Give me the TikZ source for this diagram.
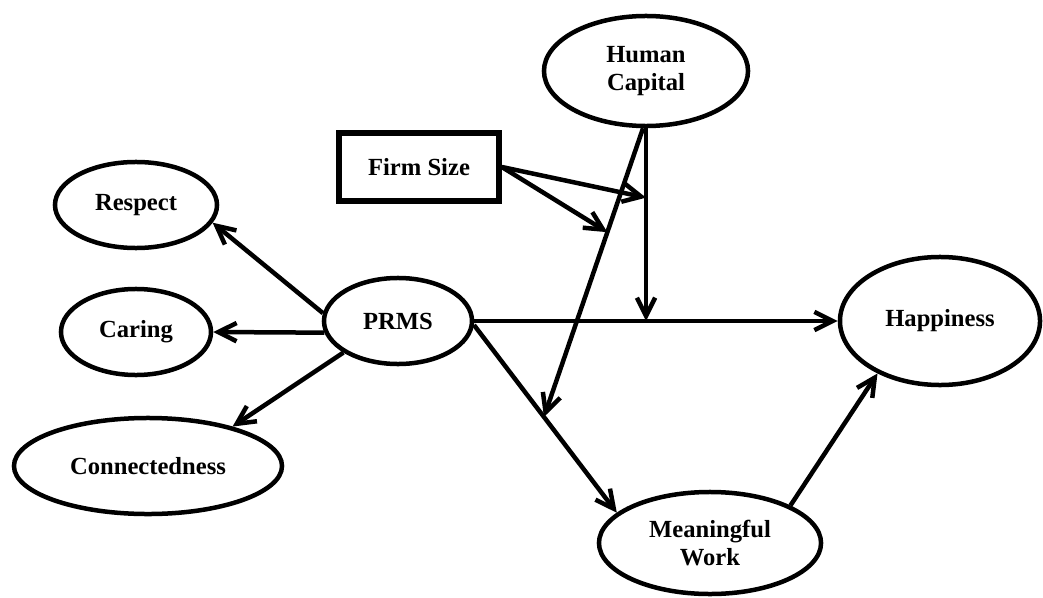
\documentclass[tikz,border=0pt]{standalone}
\usepackage{fontspec}
\setmainfont{Liberation Serif}
\usepackage{tikz}
\usetikzlibrary{arrows.meta,shapes.geometric,calc}
\tikzset{
	path model/.style={
		x=0.025cm, y=-0.025cm, % one unit is one pixel of the layout
		line width=3.2pt,
		>={Straight Barb[length=13pt,width=13pt]},
		font=\bfseries\fontsize{17.5}{19.5}\selectfont
	},
	construct/.style={
		ellipse,
		draw,
		inner sep=0pt,
		align=center
	},
	measured/.style={
		rectangle,
		draw,
		line width=4pt,
		inner sep=0pt,
		minimum width=4.0cm,
		minimum height=1.7cm
	}
}

\begin{document}
\begin{tikzpicture}[path model]
	\useasboundingbox (0,0) rectangle (1043,597);

	% constructs
	\node[construct,minimum width=5.1cm,minimum height=2.75cm] (capital) at (646,71) {Human\\Capital};
	\node[measured] (size) at (419,167) {Firm Size};
	\node[construct,minimum width=4.05cm,minimum height=2.15cm] (respect) at (136,205) {Respect};
	\node[construct,minimum width=3.75cm,minimum height=2.15cm] (caring) at (136,332) {Caring};
	\node[construct,minimum width=3.7cm,minimum height=2.15cm] (prms) at (398,321) {PRMS};
	\node[construct,minimum width=6.7cm,minimum height=2.4cm] (connect) at (148,466) {Connectedness};
	\node[construct,minimum width=5.0cm,minimum height=3.2cm] (happy) at (940,321) {Happiness};
	\node[construct,minimum width=5.55cm,minimum height=2.55cm] (work) at (710,543) {Meaningful\\Work};

	% points where the moderators meet the paths
	\coordinate (mod direct) at (prms.east -| capital.south);
	\path (prms.-3) -- (work.162) coordinate[pos=0.49] (mod indirect);
	\path (capital.south) -- (mod direct) coordinate[pos=0.36] (size direct);
	\path (capital.267) -- (mod indirect) coordinate[pos=0.36] (size indirect);

	\draw[->] (prms.174) -- (respect.-13);
	\draw[->] (prms.189) -- (caring.east);
	\draw[->] (prms.210) -- (connect.25);
	\draw[->] (prms.east) -- (happy.west);
	\draw[->] (prms.-3) -- (work.162);
	\draw[->] (work.25) -- (happy.220);
	\draw[->] (capital.south) -- (mod direct);
	\draw[->] (capital.267) -- (mod indirect);
	\draw[->] (size.east) -- (size direct);
	\draw[->] (size.east) -- (size indirect);
\end{tikzpicture}
\end{document}
